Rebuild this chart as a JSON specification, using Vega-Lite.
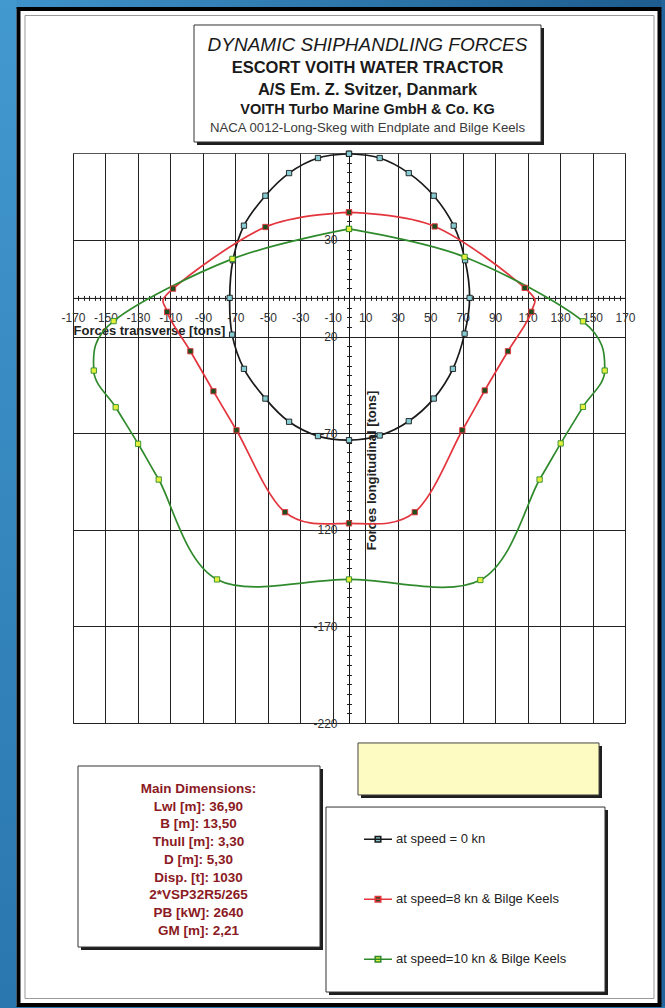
{
  "$schema": "https://vega.github.io/schema/vega-lite/v6.json",
  "width": 552,
  "height": 570,
  "autosize": {"type": "none"},
  "padding": {"left": 73, "top": 153, "right": 40, "bottom": 285},
  "background": "white",
  "config": {
    "view": {"stroke": "#555555", "strokeWidth": 1, "fill": null},
    "font": "Liberation Sans, Arial, sans-serif",
    "axis": {"labelFont": "Liberation Sans, Arial, sans-serif", "titleFont": "Liberation Sans, Arial, sans-serif"},
    "legend": {"labelFont": "Liberation Sans, Arial, sans-serif"}
  },
  "datasets": {
    "curves": [
      {"s": "at speed = 0 kn", "i": 0, "x": 0, "y": 74.6},
      {"s": "at speed = 0 kn", "i": 1, "x": -19.1, "y": 72.4},
      {"s": "at speed = 0 kn", "i": 2, "x": -36.9, "y": 64.6},
      {"s": "at speed = 0 kn", "i": 3, "x": -51.5, "y": 52.9},
      {"s": "at speed = 0 kn", "i": 4, "x": -64.7, "y": 37.4},
      {"s": "at speed = 0 kn", "i": 5, "x": -71.5, "y": 19.5},
      {"s": "at speed = 0 kn", "i": 6, "x": -73.5, "y": 0},
      {"s": "at speed = 0 kn", "i": 7, "x": -72, "y": -19},
      {"s": "at speed = 0 kn", "i": 8, "x": -64.7, "y": -36.7},
      {"s": "at speed = 0 kn", "i": 9, "x": -51.5, "y": -52.1},
      {"s": "at speed = 0 kn", "i": 10, "x": -36.9, "y": -64.1},
      {"s": "at speed = 0 kn", "i": 11, "x": -19.1, "y": -71.5},
      {"s": "at speed = 0 kn", "i": 12, "x": 0, "y": -73.6},
      {"s": "at speed = 0 kn", "i": 13, "x": 18.9, "y": -71.2},
      {"s": "at speed = 0 kn", "i": 14, "x": 36.8, "y": -63.8},
      {"s": "at speed = 0 kn", "i": 15, "x": 52.2, "y": -52.1},
      {"s": "at speed = 0 kn", "i": 16, "x": 64, "y": -36.7},
      {"s": "at speed = 0 kn", "i": 17, "x": 71.2, "y": -18.5},
      {"s": "at speed = 0 kn", "i": 18, "x": 74.3, "y": 0},
      {"s": "at speed = 0 kn", "i": 19, "x": 71.5, "y": 19.5},
      {"s": "at speed = 0 kn", "i": 20, "x": 64.5, "y": 37.4},
      {"s": "at speed = 0 kn", "i": 21, "x": 52.2, "y": 52.9},
      {"s": "at speed = 0 kn", "i": 22, "x": 36.8, "y": 64.6},
      {"s": "at speed = 0 kn", "i": 23, "x": 18.9, "y": 72.4},
      {"s": "at speed = 0 kn", "i": 24, "x": 0, "y": 74.6},
      {"s": "at speed=8 kn & Bilge Keels", "i": 0, "x": 0, "y": 44.3},
      {"s": "at speed=8 kn & Bilge Keels", "i": 1, "x": -51.5, "y": 36.7},
      {"s": "at speed=8 kn & Bilge Keels", "i": 2, "x": -108.4, "y": 4.8},
      {"s": "at speed=8 kn & Bilge Keels", "i": 3, "x": -112, "y": -7.2},
      {"s": "at speed=8 kn & Bilge Keels", "i": 4, "x": -97.7, "y": -27.6},
      {"s": "at speed=8 kn & Bilge Keels", "i": 5, "x": -83.5, "y": -48.3},
      {"s": "at speed=8 kn & Bilge Keels", "i": 6, "x": -69.3, "y": -68.5},
      {"s": "at speed=8 kn & Bilge Keels", "i": 7, "x": -39.4, "y": -110.9},
      {"s": "at speed=8 kn & Bilge Keels", "i": 8, "x": 0, "y": -116.7},
      {"s": "at speed=8 kn & Bilge Keels", "i": 9, "x": 40.5, "y": -110.9},
      {"s": "at speed=8 kn & Bilge Keels", "i": 10, "x": 69.8, "y": -68.5},
      {"s": "at speed=8 kn & Bilge Keels", "i": 11, "x": 83.6, "y": -47.9},
      {"s": "at speed=8 kn & Bilge Keels", "i": 12, "x": 97.9, "y": -27.6},
      {"s": "at speed=8 kn & Bilge Keels", "i": 13, "x": 112.3, "y": -7.2},
      {"s": "at speed=8 kn & Bilge Keels", "i": 14, "x": 108.2, "y": 5.2},
      {"s": "at speed=8 kn & Bilge Keels", "i": 15, "x": 52.8, "y": 37},
      {"s": "at speed=8 kn & Bilge Keels", "i": 16, "x": 0, "y": 44.3},
      {"s": "at speed=10 kn & Bilge Keels", "i": 0, "x": 0, "y": 35.7},
      {"s": "at speed=10 kn & Bilge Keels", "i": 1, "x": -71.8, "y": 20.2},
      {"s": "at speed=10 kn & Bilge Keels", "i": 2, "x": -145, "y": -12},
      {"s": "at speed=10 kn & Bilge Keels", "i": 3, "x": -157.2, "y": -37.6},
      {"s": "at speed=10 kn & Bilge Keels", "i": 4, "x": -143.7, "y": -56.6},
      {"s": "at speed=10 kn & Bilge Keels", "i": 5, "x": -129.9, "y": -75.5},
      {"s": "at speed=10 kn & Bilge Keels", "i": 6, "x": -117.2, "y": -94},
      {"s": "at speed=10 kn & Bilge Keels", "i": 7, "x": -81.3, "y": -145.7},
      {"s": "at speed=10 kn & Bilge Keels", "i": 8, "x": 0, "y": -145.7},
      {"s": "at speed=10 kn & Bilge Keels", "i": 9, "x": 80.9, "y": -146},
      {"s": "at speed=10 kn & Bilge Keels", "i": 10, "x": 117.4, "y": -94},
      {"s": "at speed=10 kn & Bilge Keels", "i": 11, "x": 130.4, "y": -75.3},
      {"s": "at speed=10 kn & Bilge Keels", "i": 12, "x": 144.1, "y": -56.4},
      {"s": "at speed=10 kn & Bilge Keels", "i": 13, "x": 157.5, "y": -37.6},
      {"s": "at speed=10 kn & Bilge Keels", "i": 14, "x": 144.1, "y": -12.1},
      {"s": "at speed=10 kn & Bilge Keels", "i": 15, "x": 71.2, "y": 21.2},
      {"s": "at speed=10 kn & Bilge Keels", "i": 16, "x": 0, "y": 35.7}
    ]
  },
  "layer": [
    {
      "data": {"values": [{}]},
      "mark": {"type": "rect", "fill": {"gradient": "linear", "x1": 0, "y1": 0, "x2": 1, "y2": 0, "stops": [{"offset": 0, "color": "#3f94cb"}, {"offset": 1, "color": "#1d5c8e"}]}},
      "encoding": {"x": {"datum": -216, "axis": null}, "x2": {"datum": 196}, "y": {"datum": 156, "axis": null}, "y2": {"datum": 149.5}}
    },
    {
      "data": {"values": [{}]},
      "mark": {"type": "rect", "fill": {"gradient": "linear", "x1": 0, "y1": 0, "x2": 0, "y2": 1, "stops": [{"offset": 0, "color": "#4299d0"}, {"offset": 1, "color": "#2a76ae"}]}},
      "encoding": {"x": {"datum": -216, "axis": null}, "x2": {"datum": -204.8}, "y": {"datum": 156, "axis": null}, "y2": {"datum": -369}}
    },
    {
      "data": {"values": [{}]},
      "mark": {"type": "rect", "fill": "#23659a"},
      "encoding": {"x": {"datum": 192.2, "axis": null}, "x2": {"datum": 196}, "y": {"datum": 156, "axis": null}, "y2": {"datum": -369}}
    },
    {
      "data": {"values": [{}]},
      "mark": {"type": "rect", "fill": "#2a76ae"},
      "encoding": {"x": {"datum": -216, "axis": null}, "x2": {"datum": 196}, "y": {"datum": -366.5, "axis": null}, "y2": {"datum": -369}}
    },
    {
      "data": {"values": [{}]},
      "mark": {"type": "rect", "filled": false, "stroke": "#000000", "strokeWidth": 4},
      "encoding": {"x": {"datum": -203.57, "axis": null}, "x2": {"datum": 191.25}, "y": {"datum": 149.52, "axis": null}, "y2": {"datum": -366.0}}
    },
    {
      "data": {"values": [{}]},
      "mark": {"type": "rect", "filled": false, "stroke": "#9a9a9a", "strokeWidth": 1},
      "encoding": {"x": {"datum": -199.57, "axis": null}, "x2": {"datum": 187.86}, "y": {"datum": 146.16, "axis": null}, "y2": {"datum": -362.58}}
    },
    {
      "data": {"values": [{}]},
      "mark": {"type": "rect", "fill": "#1e1e1e"},
      "encoding": {"x": {"datum": -93.62, "axis": null}, "x2": {"datum": 120.11}, "y": {"datum": 139.69, "axis": null}, "y2": {"datum": 79.14}}
    },
    {
      "data": {"values": [{}]},
      "mark": {"type": "rect", "fill": "#ffffff", "stroke": "#333333", "strokeWidth": 1},
      "encoding": {"x": {"datum": -95.47, "axis": null}, "x2": {"datum": 118.26}, "y": {"datum": 141.25, "axis": null}, "y2": {"datum": 80.7}}
    },
    {
      "data": {"values": [{}]},
      "mark": {"type": "rect", "fill": "#1e1e1e"},
      "encoding": {"x": {"datum": -165.07, "axis": null}, "x2": {"datum": -16.01}, "y": {"datum": -243.81, "axis": null}, "y2": {"datum": -337.49}}
    },
    {
      "data": {"values": [{}]},
      "mark": {"type": "rect", "fill": "#ffffff", "stroke": "#333333", "strokeWidth": 1},
      "encoding": {"x": {"datum": -166.92, "axis": null}, "x2": {"datum": -17.86}, "y": {"datum": -242.26, "axis": null}, "y2": {"datum": -335.94}}
    },
    {
      "data": {"values": [{}]},
      "mark": {"type": "rect", "fill": "#1e1e1e"},
      "encoding": {"x": {"datum": 7.39, "axis": null}, "x2": {"datum": 155.83}, "y": {"datum": -231.88, "axis": null}, "y2": {"datum": -258.8}}
    },
    {
      "data": {"values": [{}]},
      "mark": {"type": "rect", "fill": "#fdfbc2", "stroke": "#444444", "strokeWidth": 1},
      "encoding": {"x": {"datum": 5.54, "axis": null}, "x2": {"datum": 153.99}, "y": {"datum": -230.33, "axis": null}, "y2": {"datum": -257.24}}
    },
    {
      "data": {"values": [{}]},
      "mark": {"type": "rect", "fill": "#1e1e1e"},
      "encoding": {"x": {"datum": -12.32, "axis": null}, "x2": {"datum": 159.53}, "y": {"datum": -265.04, "axis": null}, "y2": {"datum": -360.79}}
    },
    {
      "data": {"values": [{}]},
      "mark": {"type": "rect", "fill": "#ffffff", "stroke": "#333333", "strokeWidth": 1},
      "encoding": {"x": {"datum": -14.17, "axis": null}, "x2": {"datum": 157.68}, "y": {"datum": -263.49, "axis": null}, "y2": {"datum": -359.23}}
    },
    {
      "data": {"name": "curves"},
      "mark": {"type": "line", "interpolate": "cardinal", "strokeWidth": 1.7},
      "encoding": {
        "x": {
          "field": "x", "type": "quantitative",
          "scale": {"domain": [-170, 170], "nice": false, "zero": false},
          "axis": {
            "orient": "bottom", "offset": -425.085,
            "values": [-170, -150, -130, -110, -90, -70, -50, -30, -10, 10, 30, 50, 70, 90, 110, 130, 150, 170],
            "labelExpr": "'' + datum.value",
            "grid": true, "gridColor": "#222222", "gridWidth": 1,
            "domain": true, "domainColor": "#111111", "domainWidth": 1,
            "ticks": false, "tickSize": 0,
            "labelPadding": 14.5, "labelFontSize": 12, "labelColor": "#333333",
            "labelFlush": false, "labelOverlap": false, "labelBound": false,
            "title": "Forces transverse [tons]", "titleAnchor": "start", "titleAlign": "left",
            "titlePadding": 1, "titleFontSize": 13, "titleFontWeight": "bold", "titleColor": "#222222"
          }
        },
        "y": {
          "field": "y", "type": "quantitative",
          "scale": {"domain": [-220, 75], "nice": false, "zero": false},
          "axis": {
            "orient": "left", "offset": -276,
            "values": [30, -20, -70, -120, -170, -220],
            "labelExpr": "'' + datum.value",
            "grid": true, "gridColor": "#222222", "gridWidth": 1,
            "domain": true, "domainColor": "#111111", "domainWidth": 1,
            "ticks": false, "tickSize": 0,
            "labelPadding": 12, "labelFontSize": 12, "labelColor": "#333333",
            "labelFlush": false, "labelOverlap": false, "labelBound": false,
            "title": null
          }
        },
        "stroke": {
          "field": "s", "type": "nominal",
          "scale": {"domain": ["at speed = 0 kn", "at speed=8 kn & Bilge Keels", "at speed=10 kn & Bilge Keels"], "range": ["#1a1a1a", "#e3353d", "#2f8a2c"]},
          "legend": {
            "orient": "none", "legendX": 290, "legendY": 671.3, "title": null,
            "symbolType": "M-1,0H1M-0.2,-0.2H0.2V0.2H-0.2Z", "symbolSize": 784,
            "symbolStrokeWidth": 1.5, "symbolOpacity": 1,
            "labelFontSize": 13, "labelColor": "#222222", "labelOffset": 3,
            "rowPadding": 38, "padding": 0, "labelLimit": 400
          }
        },
        "order": {"field": "i", "type": "quantitative"}
      }
    },
    {
      "data": {"name": "curves"},
      "mark": {"type": "point", "shape": "square", "size": 28, "filled": true, "opacity": 1, "strokeWidth": 0.9},
      "encoding": {
        "x": {
          "field": "x", "type": "quantitative",
          "axis": {
            "orient": "top", "offset": -147.415,
            "values": {"expr": "sequence(-170, 170.01, 10/3)"},
            "grid": false, "domain": false, "labels": false,
            "ticks": true, "tickSize": 5, "tickColor": "#222222", "tickWidth": 1,
            "title": null
          }
        },
        "y": {
          "field": "y", "type": "quantitative",
          "axis": {
            "orient": "right", "offset": -278.5,
            "values": {"expr": "sequence(-220, 75.01, 5)"},
            "grid": false, "domain": false, "labels": false,
            "ticks": true, "tickSize": 5, "tickColor": "#222222", "tickWidth": 1,
            "title": "Forces longitudinal [tons]", "titleAngle": 270,
            "titleX": 25.2, "titleY": 317, "titleAlign": "center", "titleBaseline": "middle",
            "titleFontSize": 13, "titleFontWeight": "bold", "titleColor": "#222222"
          }
        },
        "fill": {
          "field": "s", "type": "nominal",
          "scale": {"domain": ["at speed = 0 kn", "at speed=8 kn & Bilge Keels", "at speed=10 kn & Bilge Keels"], "range": ["#86cbd2", "#1e4d1e", "#e4f03c"]},
          "legend": {
            "orient": "none", "legendX": 290, "legendY": 671.3, "title": null,
            "symbolType": "M-1,0H1M-0.2,-0.2H0.2V0.2H-0.2Z", "symbolSize": 784,
            "symbolStrokeWidth": 1.5, "symbolOpacity": 1,
            "labelFontSize": 13, "labelColor": "#222222", "labelOffset": 3,
            "rowPadding": 38, "padding": 0, "labelLimit": 400
          }
        },
        "stroke": {
          "field": "s", "type": "nominal",
          "legend": {
            "orient": "none", "legendX": 290, "legendY": 671.3, "title": null,
            "symbolType": "M-1,0H1M-0.2,-0.2H0.2V0.2H-0.2Z", "symbolSize": 784,
            "symbolStrokeWidth": 1.5, "symbolOpacity": 1,
            "labelFontSize": 13, "labelColor": "#222222", "labelOffset": 3,
            "rowPadding": 38, "padding": 0, "labelLimit": 400
          }
        }
      }
    },
    {
      "data": {"values": [{}]},
      "mark": {"type": "text", "text": "DYNAMIC SHIPHANDLING FORCES", "fontStyle": "italic", "fontSize": 19, "align": "center", "baseline": "middle", "fill": "#1a1a1a"},
      "encoding": {"x": {"datum": 11.4, "axis": null}, "y": {"datum": 130.9, "axis": null}}
    },
    {
      "data": {"values": [{}]},
      "mark": {"type": "text", "text": "ESCORT VOITH WATER TRACTOR", "fontWeight": "bold", "fontSize": 16.5, "align": "center", "baseline": "middle", "fill": "#1a1a1a"},
      "encoding": {"x": {"datum": 11.4, "axis": null}, "y": {"datum": 119.0, "axis": null}}
    },
    {
      "data": {"values": [{}]},
      "mark": {"type": "text", "text": "A/S Em. Z. Svitzer, Danmark", "fontWeight": "bold", "fontSize": 16.5, "align": "center", "baseline": "middle", "fill": "#1a1a1a"},
      "encoding": {"x": {"datum": 11.4, "axis": null}, "y": {"datum": 107.62, "axis": null}}
    },
    {
      "data": {"values": [{}]},
      "mark": {"type": "text", "text": "VOITH Turbo Marine GmbH & Co. KG", "fontWeight": "bold", "fontSize": 14.5, "align": "center", "baseline": "middle", "fill": "#1a1a1a"},
      "encoding": {"x": {"datum": 11.4, "axis": null}, "y": {"datum": 97.27, "axis": null}}
    },
    {
      "data": {"values": [{}]},
      "mark": {"type": "text", "text": "NACA 0012-Long-Skeg with Endplate and Bilge Keels", "fontSize": 13.2, "align": "center", "baseline": "middle", "fill": "#3a3a3a"},
      "encoding": {"x": {"datum": 11.4, "axis": null}, "y": {"datum": 88.09, "axis": null}}
    },
    {
      "data": {"values": [{}]},
      "mark": {
        "type": "text",
        "text": ["Main Dimensions:", "Lwl [m]: 36,90", "B [m]: 13,50", "Thull [m]: 3,30", "D [m]: 5,30", "Disp. [t]: 1030", "2*VSP32R5/265", "PB [kW]: 2640", "GM [m]: 2,21"],
        "fontWeight": "bold", "fontSize": 13.5, "lineHeight": 17.7, "align": "center", "baseline": "alphabetic", "fill": "#8b1a24"
      },
      "encoding": {"x": {"datum": -92.7, "axis": null}, "y": {"datum": -256.23, "axis": null}}
    }
  ]
}
